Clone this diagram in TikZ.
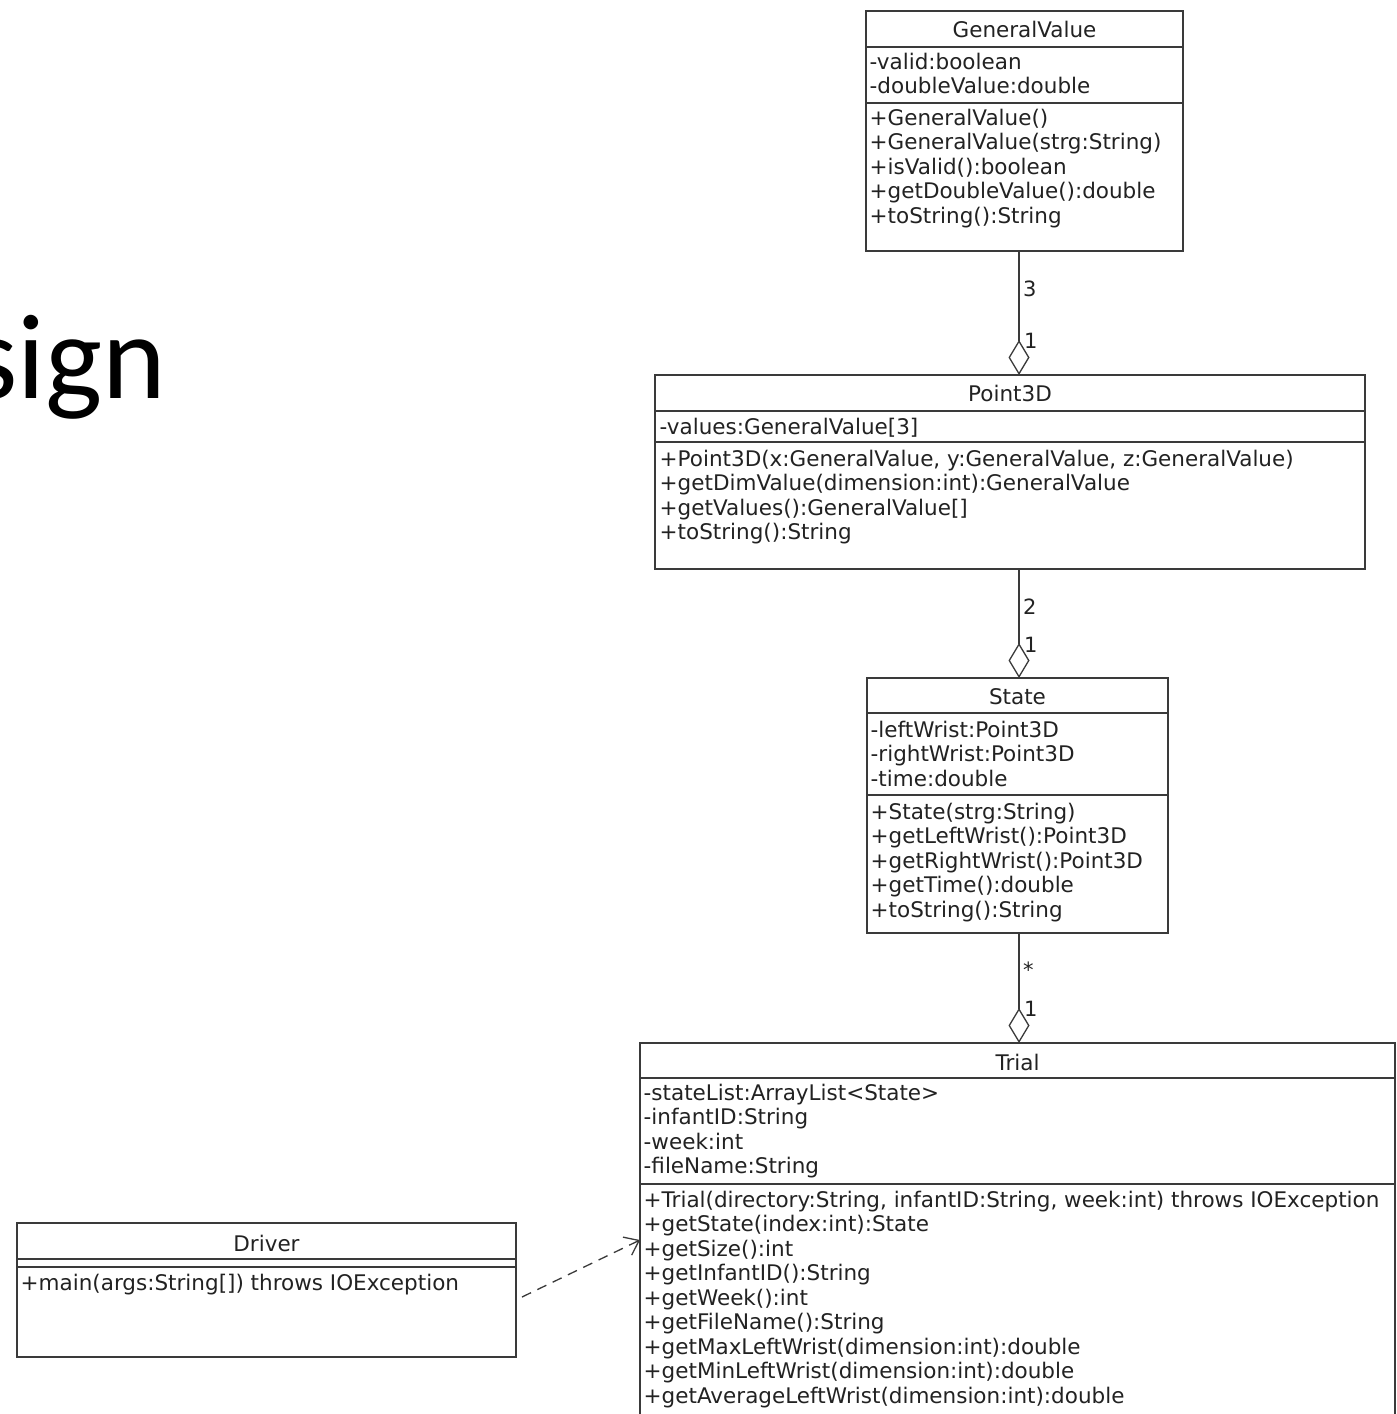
\documentclass[tikz,border=0pt]{standalone}
\usepackage{fontspec}
\setmainfont{DejaVu Sans}
\newfontfamily\slidefont{Carlito}
\usetikzlibrary{arrows.meta,calc}
\definecolor{umlline}{HTML}{3A3A3A}
\definecolor{umltext}{HTML}{222222}
\begin{document}
\begin{tikzpicture}[x=1pt,y=-1pt,
  classbox/.style={draw=umlline,line width=1.4pt,rectangle,anchor=north west,inner sep=0pt,outer sep=0pt},
  title/.style={text=umltext,inner sep=0pt,font=\fontsize{21.5}{24.5}\selectfont},
  members/.style={text=umltext,inner sep=0pt,anchor=north west,align=left,font=\fontsize{21.5}{24.5}\selectfont},
  sepline/.style={draw=umlline,line width=1.4pt},
  aggr/.style={draw=umlline,line width=1.3pt,-{Diamond[open,length=35pt,width=21pt,line width=1.3pt]}},
  mult/.style={text=umltext,inner sep=0pt,anchor=west,font=\fontsize{21}{24}\selectfont},
  dep/.style={draw=umlline,line width=1.3pt,dash pattern=on 10pt off 7pt,-{Straight Barb[length=13pt,width=20pt,line width=1.3pt]}}
]
\useasboundingbox[fill=white] (0,0) rectangle (1397,1414);

% heading fragment on the left
\node[anchor=base east,inner sep=0pt,text=black,font=\slidefont\fontsize{121}{121}\selectfont] (heading) at (166,398) {sign};

% ---- GeneralValue
\node[classbox,minimum width=317pt,minimum height=240pt] (gv) at (866,11) {};
\node[title] (gvT) at (1024.5,29) {GeneralValue};
\draw[sepline] (866,47) -- (1183,47);
\draw[sepline] (866,103) -- (1183,103);
\node[members] (gvA) at (869.5,52) {\strut-valid:boolean\\-doubleValue:double};
\node[members] (gvO) at (869.5,108) {\strut+GeneralValue()\\+GeneralValue(strg:String)\\+isValid():boolean\\+getDoubleValue():double\\+toString():String};

% ---- Point3D
\node[classbox,minimum width=710pt,minimum height=194pt] (p3) at (655,375) {};
\node[title] (p3T) at (1010,393) {Point3D};
\draw[sepline] (655,411) -- (1365,411);
\draw[sepline] (655,442) -- (1365,442);
\node[members] (p3A) at (659.5,417) {\strut-values:GeneralValue[3]};
\node[members] (p3O) at (659.5,449) {\strut+Point3D(x:GeneralValue, y:GeneralValue, z:GeneralValue)\\+getDimValue(dimension:int):GeneralValue\\+getValues():GeneralValue[]\\+toString():String};

% ---- State
\node[classbox,minimum width=301pt,minimum height=255pt] (st) at (867,678) {};
\node[title] (stT) at (1017.5,697) {State};
\draw[sepline] (867,713) -- (1168,713);
\draw[sepline] (867,795) -- (1168,795);
\node[members] (stA) at (870.5,720) {\strut-leftWrist:Point3D\\-rightWrist:Point3D\\-time:double};
\node[members] (stO) at (870.5,802) {\strut+State(strg:String)\\+getLeftWrist():Point3D\\+getRightWrist():Point3D\\+getTime():double\\+toString():String};

% ---- Trial (runs past the lower edge)
\node[classbox,minimum width=755pt,minimum height=400pt] (tr) at (640,1043) {};
\node[title] (trT) at (1017.5,1062) {Trial};
\draw[sepline] (640,1078) -- (1395,1078);
\draw[sepline] (640,1184) -- (1395,1184);
\node[members] (trA) at (643.5,1083) {\strut-stateList:ArrayList<State>\\-infantID:String\\-week:int\\-fileName:String};
\node[members] (trO) at (643.5,1190) {\strut+Trial(directory:String, infantID:String, week:int) throws IOException\\+getState(index:int):State\\+getSize():int\\+getInfantID():String\\+getWeek():int\\+getFileName():String\\+getMaxLeftWrist(dimension:int):double\\+getMinLeftWrist(dimension:int):double\\+getAverageLeftWrist(dimension:int):double};

% ---- Driver
\node[classbox,minimum width=499pt,minimum height=134pt] (drv) at (17,1223) {};
\node[title] (drvT) at (266.5,1243) {Driver};
\draw[sepline] (17,1259) -- (516,1259);
\draw[sepline] (17,1267) -- (516,1267);
\node[members] (drvO) at (20.5,1273) {\strut+main(args:String[]) throws IOException};

% ---- associations
\coordinate (axis) at (1019,0);
\draw[aggr] (gv.south -| axis) -- (p3.north -| axis);
\draw[aggr] (p3.south -| axis) -- (st.north -| axis);
\draw[aggr] (st.south -| axis) -- (tr.north -| axis);
\node[mult] (m1a) at (1023,289) {3};
\node[mult] (m1b) at (1024,341) {1};
\node[mult] (m2a) at (1023,607) {2};
\node[mult] (m2b) at (1024,645) {1};
\node[mult] (m3a) at (1023,970) {*};
\node[mult] (m3b) at (1024,1009) {1};

% ---- dependency
\coordinate (tipy) at (0,1240);
\draw[dep] ([shift={(6,7)}]drv.east) -- (tr.west |- tipy);
\end{tikzpicture}
\end{document}
